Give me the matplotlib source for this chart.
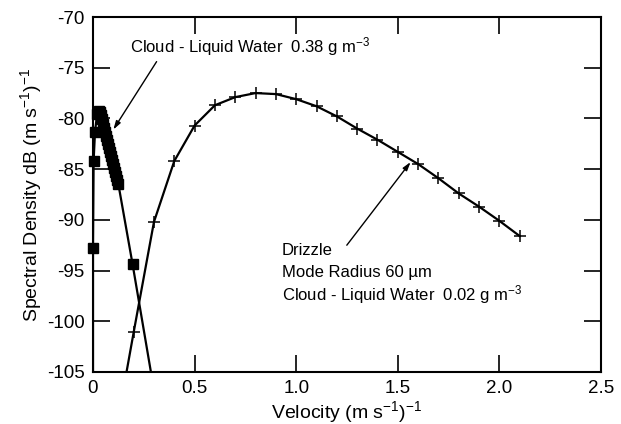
import matplotlib
matplotlib.use('Agg')
import matplotlib.pyplot as plt
import numpy as np

plt.rcParams['font.family'] = ['Liberation Sans', 'DejaVu Sans']
plt.rcParams['mathtext.fontset'] = 'custom'
plt.rcParams['mathtext.rm'] = 'Liberation Sans'
plt.rcParams['mathtext.it'] = 'Liberation Sans:italic'
plt.rcParams['axes.unicode_minus'] = False

# drizzle spectrum (plus markers)
drizzle_v = [0.2, 0.3, 0.4, 0.5, 0.6, 0.7, 0.8, 0.9, 1.0, 1.1,
             1.2, 1.3, 1.4, 1.5, 1.6, 1.7, 1.8, 1.9, 2.0, 2.1]
drizzle_db = [-101.1, -90.2, -84.2, -80.7, -78.7, -77.9, -77.5, -77.6, -78.1, -78.8,
              -79.8, -81.0, -82.1, -83.3, -84.5, -85.9, -87.4, -88.7, -90.1, -91.6]
# where the drizzle curve leaves the bottom of the frame
drizzle_tail_v = [0.165]
drizzle_tail_db = [-105.0]

# cloud spectrum (square markers) - dense band near the peak
cloud_v = [0.000, 0.003, 0.010, 0.020, 0.030, 0.035, 0.040, 0.045, 0.050, 0.055,
           0.060, 0.065, 0.070, 0.075, 0.080, 0.085, 0.090, 0.095, 0.100, 0.105,
           0.110, 0.115, 0.120, 0.125, 0.195]
cloud_db = [-92.8, -84.2, -81.3, -79.6, -79.3, -79.4, -79.7, -80.1, -80.5, -80.9,
            -81.3, -81.7, -82.1, -82.5, -82.9, -83.3, -83.7, -84.1, -84.5, -84.9,
            -85.3, -85.7, -86.1, -86.5, -94.4]
# cloud curve ends at the bottom of the frame
cloud_start_v = [0.0]
cloud_start_db = [-105.0]
cloud_end_v = [0.285]
cloud_end_db = [-105.0]

x_ticks = [0, 0.5, 1.0, 1.5, 2.0, 2.5]
x_ticklabels = ['0', '0.5', '1.0', '1.5', '2.0', '2.5']
y_ticks = [-70, -75, -80, -85, -90, -95, -100, -105]

fig = plt.figure(figsize=(6.21, 4.24), dpi=100)
ax = fig.add_axes([93 / 621, 1 - 372 / 424, (601 - 93) / 621, (372 - 17) / 424])

# drizzle
ax.plot(drizzle_tail_v + drizzle_v, drizzle_tail_db + drizzle_db, color='black', lw=1.6,
        zorder=2)
ax.plot(drizzle_v, drizzle_db, linestyle='none', marker='+', ms=8, mew=1.1,
        color='black', zorder=3)

# cloud
ax.plot(cloud_start_v + cloud_v + cloud_end_v, cloud_start_db + cloud_db + cloud_end_db,
        color='black', lw=1.6, zorder=2)
ax.plot(cloud_v, cloud_db, linestyle='none', marker='s', ms=6.5, color='black', zorder=3,
        clip_on=False)

ax.set_xlim(0, 2.5)
ax.set_ylim(-105, -70)
ax.set_xticks(x_ticks)
ax.set_xticklabels(x_ticklabels)
ax.set_yticks(y_ticks)
ax.tick_params(direction='in', length=12, width=1.2, labelsize=13.5, top=True, right=True,
               pad=6)
for sp in ax.spines.values():
    sp.set_linewidth(1.5)

ax.set_xlabel('Velocity (m s$^{-1}$)$^{-1}$', fontsize=14, labelpad=1)
ax.set_ylabel('Spectral Density dB (m s$^{-1}$)$^{-1}$', fontsize=14, labelpad=2)

# annotations
arrow = dict(arrowstyle='-|>,head_length=0.5,head_width=0.15', color='black', lw=1.0,
             shrinkA=0, shrinkB=0)
ax.text(0.182, -72.96, 'Cloud - Liquid Water  0.38 g m$^{-3}$', fontsize=12,
        ha='left', va='center')
ax.annotate('', xy=(0.100, -81.1), xytext=(0.313, -74.4), arrowprops=arrow)

ax.text(0.93, -93.0, 'Drizzle', fontsize=12, ha='left', va='center')
ax.text(0.93, -95.2, 'Mode Radius 60 µm', fontsize=12, ha='left', va='center')
ax.text(0.93, -97.4, 'Cloud - Liquid Water  0.02 g m$^{-3}$', fontsize=12,
        ha='left', va='center')
ax.annotate('', xy=(1.563, -84.3), xytext=(1.249, -92.5), arrowprops=arrow)

fig.savefig('out.png', dpi=100)
